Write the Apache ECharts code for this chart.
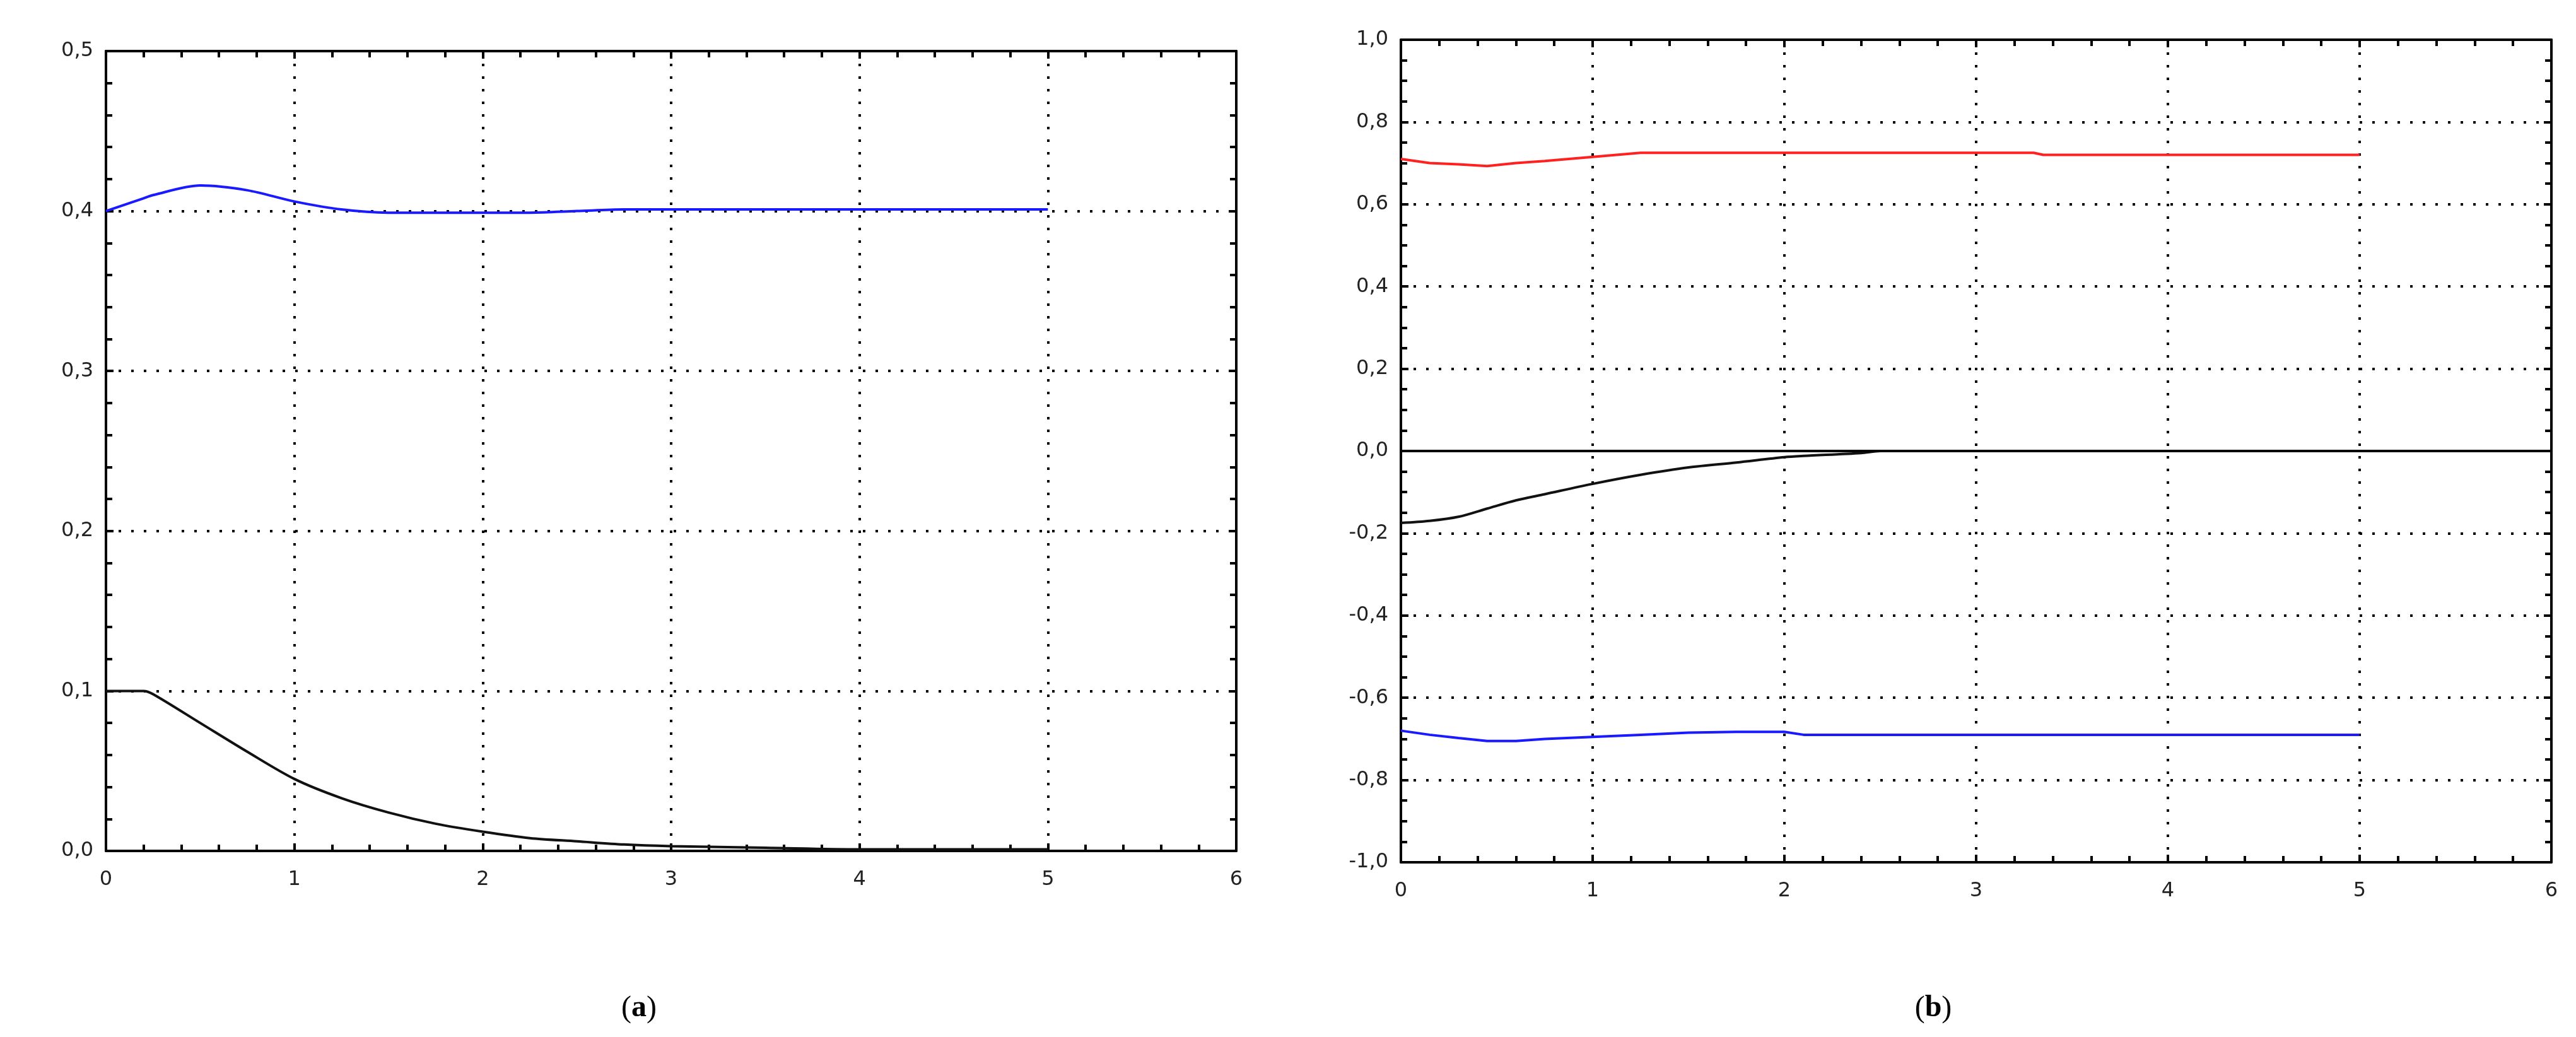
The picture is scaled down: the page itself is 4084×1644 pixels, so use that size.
<!DOCTYPE html>
<html>
<head>
<meta charset="utf-8">
<script src="https://cdn.jsdelivr.net/npm/echarts@6/dist/echarts.min.js"></script>
<style>
  html, body { margin: 0; padding: 0; background: #fff; }
  #main { width: 4084px; height: 1644px; }
</style>
</head>
<body>
<div id="main"></div>
<script>
// panel (a)
const aTime    = [0, 0.2, 0.25, 0.5, 0.75, 1, 1.25, 1.5, 1.75, 2, 2.25, 2.5, 2.75, 3, 3.5, 4, 4.5, 5];
const aBlue    = [0.400, 0.408, 0.410, 0.416, 0.413, 0.406, 0.401, 0.399, 0.399, 0.399, 0.399, 0.400, 0.401, 0.401, 0.401, 0.401, 0.401, 0.401];
const aBlack   = [0.100, 0.100, 0.098, 0.080, 0.062, 0.045, 0.033, 0.024, 0.017, 0.012, 0.008, 0.006, 0.004, 0.003, 0.002, 0.001, 0.001, 0.001];
// panel (b)
const bTime    = [0, 0.15, 0.3, 0.45, 0.6, 0.75, 1, 1.25, 1.5, 1.75, 2, 2.1, 2.4, 2.5, 3, 3.3, 3.35, 4, 5];
const bRed     = [0.710, 0.700, 0.697, 0.693, 0.700, 0.705, 0.715, 0.725, 0.725, 0.725, 0.725, 0.725, 0.725, 0.725, 0.725, 0.725, 0.720, 0.720, 0.720];
const bBlack   = [-0.175, -0.170, -0.160, -0.140, -0.120, -0.105, -0.080, -0.058, -0.040, -0.028, -0.015, -0.012, -0.005, 0.000, 0.000, 0.000, 0.000, 0.000, 0.000];
const bBlue    = [-0.680, -0.690, -0.698, -0.705, -0.705, -0.700, -0.695, -0.690, -0.685, -0.683, -0.683, -0.690, -0.690, -0.690, -0.690, -0.690, -0.690, -0.690, -0.690];

const pair = (xs, ys) => xs.map((x, i) => [x, ys[i]]);
const fmt = v => v.toFixed(1).replace('.', ',');
const font = { fontFamily: 'DejaVu Sans', fontSize: 32, color: '#222' };
const dotted = { show: true, lineStyle: { color: '#000', type: [4, 16], width: 4 } };
const axLine = { show: true, onZero: false, lineStyle: { color: '#000', width: 4 } };
const tick = { inside: true, length: 12, lineStyle: { width: 4, color: '#000' } };
const minor = n => ({ show: true, splitNumber: n, length: 10, lineStyle: { width: 4, color: '#000' } });

function xAxes(gi) {
  return [
    { type: 'value', gridIndex: gi, min: 0, max: 6, interval: 1, position: 'bottom',
      axisLine: axLine, axisTick: tick, minorTick: minor(5),
      axisLabel: Object.assign({ margin: 30 }, font), splitLine: dotted },
    { type: 'value', gridIndex: gi, min: 0, max: 6, interval: 1, position: 'top',
      axisLine: axLine, axisTick: tick, minorTick: minor(5),
      axisLabel: { show: false }, splitLine: { show: false } }
  ];
}
function yAxes(gi, min, max, step, n) {
  return [
    { type: 'value', gridIndex: gi, min, max, interval: step, position: 'left',
      axisLine: axLine, axisTick: tick, minorTick: minor(n),
      axisLabel: Object.assign({ margin: 20, formatter: fmt }, font), splitLine: dotted },
    { type: 'value', gridIndex: gi, min, max, interval: step, position: 'right',
      axisLine: axLine, axisTick: tick, minorTick: minor(n),
      axisLabel: { show: false }, splitLine: { show: false } }
  ];
}
function line(name, data, color, xi, yi, extra) {
  return Object.assign({ name, type: 'line', xAxisIndex: xi, yAxisIndex: yi, data, symbol: 'none',
    smooth: 0.3, lineStyle: { color, width: 4 }, animation: false }, extra || {});
}
const capStyle = {
  fontFamily: 'Liberation Serif', fontSize: 48, fontWeight: 'normal', color: '#000',
  rich: { b: { fontFamily: 'Liberation Serif', fontSize: 48, fontWeight: 'bold', color: '#000' } }
};

const chart = echarts.init(document.getElementById('main'));
chart.setOption({
  backgroundColor: '#fff',
  animation: false,
  grid: [
    { left: 168, top: 81, width: 1792, height: 1268 },
    { left: 2221, top: 63, width: 1824, height: 1304 }
  ],
  xAxis: [...xAxes(0), ...xAxes(1)],
  yAxis: [...yAxes(0, 0, 0.5, 0.1, 5), ...yAxes(1, -1, 1, 0.2, 4)],
  title: [
    { text: '({b|a})', left: 1008, top: 1570, textAlign: 'center', textStyle: capStyle },
    { text: '({b|b})', left: 3060, top: 1570, textAlign: 'center', textStyle: capStyle }
  ],
  series: [
    line('a blue', pair(aTime, aBlue), '#1a1aff', 0, 0),
    line('a black', pair(aTime, aBlack), '#111', 0, 0),
    line('b red', pair(bTime, bRed), '#ff2020', 2, 2, { smooth: false }),
    line('b black', pair(bTime, bBlack), '#111', 2, 2, {
      markLine: { silent: true, symbol: 'none', label: { show: false },
        lineStyle: { color: '#000', type: 'solid', width: 4 }, data: [{ yAxis: 0 }] } }),
    line('b blue', pair(bTime, bBlue), '#1a1aff', 2, 2, { smooth: false })
  ]
});
</script>
</body>
</html>
